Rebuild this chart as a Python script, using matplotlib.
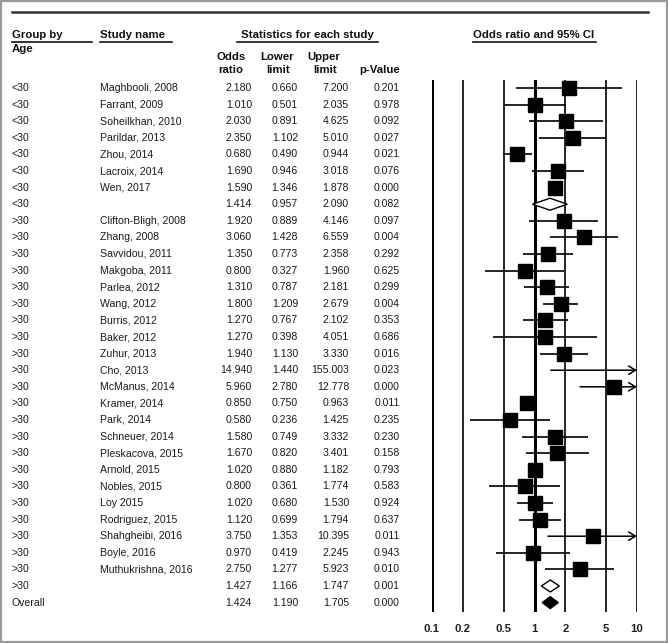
import matplotlib
matplotlib.use("Agg")
import matplotlib.pyplot as plt
from matplotlib.patches import Polygon, Rectangle
from matplotlib.ticker import NullLocator

plt.rcParams['font.family'] = ['Liberation Sans', 'DejaVu Sans']

# ---- data ----
groups = ["<30"] * 8 + [">30"] * 23 + ["Overall"]
studies = ["Maghbooli, 2008", "Farrant, 2009", "Soheilkhan, 2010", "Parildar, 2013",
           "Zhou, 2014", "Lacroix, 2014", "Wen, 2017", "",
           "Clifton-Bligh, 2008", "Zhang, 2008", "Savvidou, 2011", "Makgoba, 2011",
           "Parlea, 2012", "Wang, 2012", "Burris, 2012", "Baker, 2012", "Zuhur, 2013",
           "Cho, 2013", "McManus, 2014", "Kramer, 2014", "Park, 2014", "Schneuer, 2014",
           "Pleskacova, 2015", "Arnold, 2015", "Nobles, 2015", "Loy 2015",
           "Rodriguez, 2015", "Shahgheibi, 2016", "Boyle, 2016", "Muthukrishna, 2016",
           "", ""]
odds = [2.180, 1.010, 2.030, 2.350, 0.680, 1.690, 1.590, 1.414,
        1.920, 3.060, 1.350, 0.800, 1.310, 1.800, 1.270, 1.270, 1.940,
        14.940, 5.960, 0.850, 0.580, 1.580, 1.670, 1.020, 0.800, 1.020,
        1.120, 3.750, 0.970, 2.750, 1.427, 1.424]
lower = [0.660, 0.501, 0.891, 1.102, 0.490, 0.946, 1.346, 0.957,
         0.889, 1.428, 0.773, 0.327, 0.787, 1.209, 0.767, 0.398, 1.130,
         1.440, 2.780, 0.750, 0.236, 0.749, 0.820, 0.880, 0.361, 0.680,
         0.699, 1.353, 0.419, 1.277, 1.166, 1.190]
upper = [7.200, 2.035, 4.625, 5.010, 0.944, 3.018, 1.878, 2.090,
         4.146, 6.559, 2.358, 1.960, 2.181, 2.679, 2.102, 4.051, 3.330,
         155.003, 12.778, 0.963, 1.425, 3.332, 3.401, 1.182, 1.774, 1.530,
         1.794, 10.395, 2.245, 5.923, 1.747, 1.705]
pvals = [0.201, 0.978, 0.092, 0.027, 0.021, 0.076, 0.000, 0.082,
         0.097, 0.004, 0.292, 0.625, 0.299, 0.004, 0.353, 0.686, 0.016,
         0.023, 0.000, 0.011, 0.235, 0.230, 0.158, 0.793, 0.583, 0.924,
         0.637, 0.011, 0.943, 0.010, 0.001, 0.000]
# row kind: study, subgroup summary, overall summary
kinds = ["study"] * 7 + ["sub"] + ["study"] * 22 + ["sub", "overall"]
ticks = [0.1, 0.2, 0.5, 1, 2, 5, 10]
tick_labels = ["0.1", "0.2", "0.5", "1", "2", "5", "10"]

W, H = 668, 643
fig = plt.figure(figsize=(W / 100, H / 100), dpi=100)

# background axes in pixel coords for the table
bg = fig.add_axes([0, 0, 1, 1])
bg.set_xlim(0, W)
bg.set_ylim(H, 0)
bg.axis('off')

bg.add_patch(Rectangle((1, 1), W - 2, H - 2, fill=False, ec='#9a9a9a', lw=1.6))
bg.plot([12, 648], [12, 12], color='#333333', lw=1.8)

hdr = dict(fontsize=8.2, fontweight='bold', color='#111111', va='center')
bg.text(12, 35, "Group by", ha='left', **hdr)
bg.text(12, 48.5, "Age", ha='left', **hdr)
bg.text(100, 35, "Study name", ha='left', **hdr)
bg.text(307, 35, "Statistics for each study", ha='center', **hdr)
bg.text(534, 35, "Odds ratio and 95% CI", ha='center', **hdr)
bg.text(231, 57, "Odds", ha='center', **hdr)
bg.text(231, 70, "ratio", ha='center', **hdr)
bg.text(277, 57, "Lower", ha='center', **hdr)
bg.text(278, 70, "limit", ha='center', **hdr)
bg.text(324, 57, "Upper", ha='center', **hdr)
bg.text(325, 70, "limit", ha='center', **hdr)
bg.text(400, 70, "p-Value", ha='right', **hdr)
for x0, x1 in [(12, 92), (100, 172), (237, 378), (473, 596)]:
    bg.plot([x0, x1], [41.5, 41.5], color='#111111', lw=1.2)

row0, dy = 88, 16.6
cell = dict(fontsize=7.6, color='#1a1a1a', va='center')
for i in range(len(groups)):
    y = row0 + i * dy
    bg.text(12, y, groups[i], ha='left', **cell)
    bg.text(100, y, studies[i], ha='left', **cell)
    bg.text(252, y, f"{odds[i]:.3f}", ha='right', **cell)
    bg.text(298, y, f"{lower[i]:.3f}", ha='right', **cell)
    bg.text(349, y, f"{upper[i]:.3f}", ha='right', **cell)
    bg.text(400, y, f"{pvals[i]:.3f}", ha='right', **cell)

# forest panel
top_px, bot_px = 80, 612
fa = fig.add_axes([432 / W, 1 - bot_px / H, 205 / W, (bot_px - top_px) / H])
fa.set_facecolor('none')
fa.set_xscale('log')
fa.set_xlim(0.1, 10)
fa.set_ylim((bot_px - row0) / dy, (top_px - row0) / dy)
for s in fa.spines.values():
    s.set_visible(False)
fa.set_yticks([])
fa.xaxis.set_minor_locator(NullLocator())
fa.set_xticks(ticks)
fa.set_xticklabels(tick_labels, fontsize=8.2, fontweight='bold', color='#222222')
fa.tick_params(axis='x', length=0, pad=9)

for v in ticks:
    lw = 2.2 if v in (0.1, 1) else 1.2
    fa.axvline(v, color='black', lw=lw, zorder=1)

for i, k in enumerate(kinds):
    lo, hi, od = lower[i], upper[i], odds[i]
    if k == "study":
        if hi > 10:
            fa.annotate('', xy=(10, i), xytext=(lo, i), annotation_clip=False,
                        arrowprops=dict(arrowstyle='->,head_length=0.5,head_width=0.3',
                                        lw=1.1, color='black',
                                        mutation_scale=10, shrinkA=0, shrinkB=0))
        else:
            fa.plot([lo, hi], [i, i], color='black', lw=1.2, zorder=2,
                    solid_capstyle='butt')
        if od <= 10:
            fa.plot(od, i, marker='s', ms=10.3, color='black', zorder=3)
    else:
        h = 0.36
        fc = 'black' if k == "overall" else 'white'
        fa.add_patch(Polygon([(lo, i), (od, i - h), (hi, i), (od, i + h)],
                             closed=True, fc=fc, ec='black', lw=1.0, zorder=3))

fig.savefig("out.png", dpi=100)
